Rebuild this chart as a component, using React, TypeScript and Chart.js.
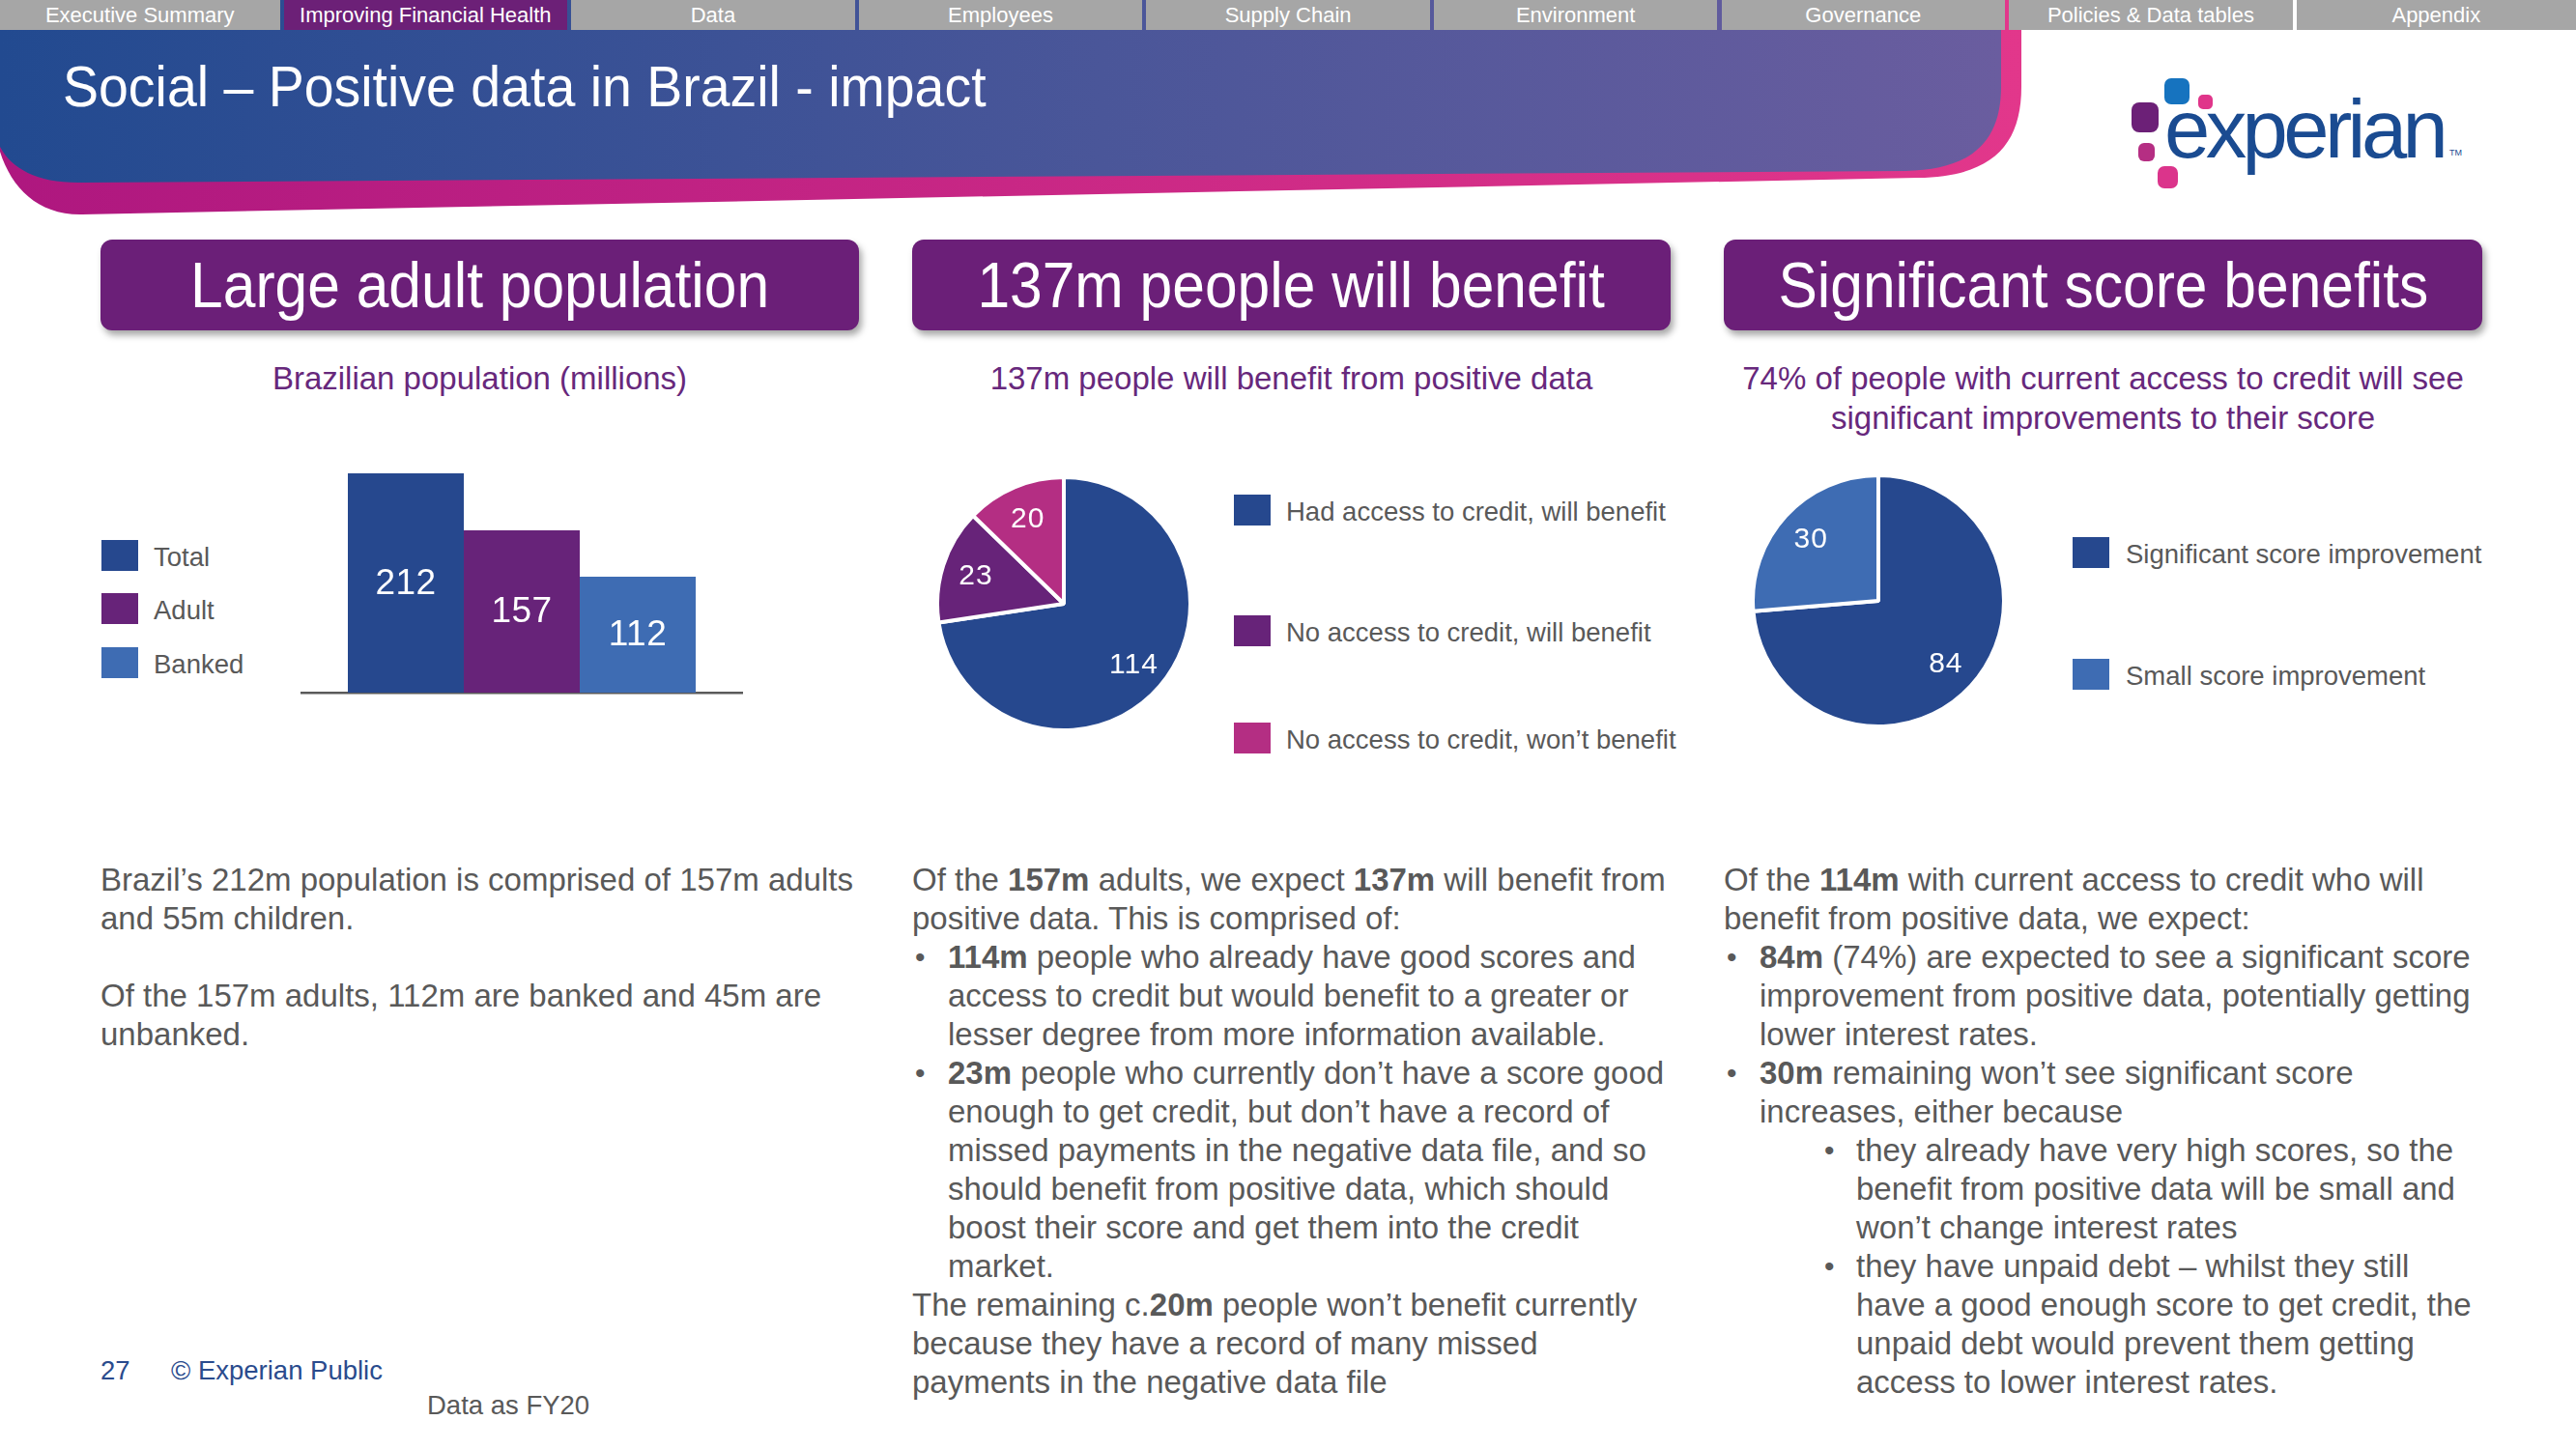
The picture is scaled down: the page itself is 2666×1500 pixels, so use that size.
import React, { useEffect, useRef } from "react";
import { Chart, registerables } from "chart.js";

Chart.register(...registerables);

const FONT = '"Liberation Sans", Arial, Helvetica, sans-serif';
Chart.defaults.font.family = FONT;

// ---------------- data ----------------
const navTabs = [
  "Executive Summary",
  "Improving Financial Health",
  "Data",
  "Employees",
  "Supply Chain",
  "Environment",
  "Governance",
  "Policies & Data tables",
  "Appendix",
];
const activeTabIndex = 1;

const slideTitle = "Social – Positive data in Brazil - impact";

const panelHeadings = ["Large adult population", "137m people will benefit", "Significant score benefits"];
const panelSubtitles = [
  ["Brazilian population (millions)"],
  ["137m people will benefit from positive data"],
  ["74% of people with current access to credit will see", "significant improvements to their score"],
];

const populationCategories = ["Total", "Adult", "Banked"];
const populationValues = [212, 157, 112];

const benefitCategories = [
  "Had access to credit, will benefit",
  "No access to credit, will benefit",
  "No access to credit, won’t benefit",
];
const benefitValues = [114, 23, 20];

const scoreCategories = ["Significant score improvement", "Small score improvement"];
const scoreValues = [84, 30];

type Line = { text: string; level: number; bullet?: boolean };

const panel1Lines: Line[] = [
  { text: "Brazil’s 212m population is comprised of 157m adults", level: 0 },
  { text: "and 55m children.", level: 0 },
  { text: "", level: 0 },
  { text: "Of the 157m adults, 112m are banked and 45m are", level: 0 },
  { text: "unbanked.", level: 0 },
];

const panel2Lines: Line[] = [
  { text: "Of the **157m** adults, we expect **137m** will benefit from", level: 0 },
  { text: "positive data. This is comprised of:", level: 0 },
  { text: "**114m** people who already have good scores and", level: 1, bullet: true },
  { text: "access to credit but would benefit to a greater or", level: 1 },
  { text: "lesser degree from more information available.", level: 1 },
  { text: "**23m** people who currently don’t have a score good", level: 1, bullet: true },
  { text: "enough to get credit, but don’t have a record of", level: 1 },
  { text: "missed payments in the negative data file, and so", level: 1 },
  { text: "should benefit from positive data, which should", level: 1 },
  { text: "boost their score and get them into the credit", level: 1 },
  { text: "market.", level: 1 },
  { text: "The remaining c.**20m** people won’t benefit currently", level: 0 },
  { text: "because they have a record of many missed", level: 0 },
  { text: "payments in the negative data file", level: 0 },
];

const panel3Lines: Line[] = [
  { text: "Of the **114m** with current access to credit who will", level: 0 },
  { text: "benefit from positive data, we expect:", level: 0 },
  { text: "**84m** (74%) are expected to see a significant score", level: 1, bullet: true },
  { text: "improvement from positive data, potentially getting", level: 1 },
  { text: "lower interest rates.", level: 1 },
  { text: "**30m** remaining won’t see significant score", level: 1, bullet: true },
  { text: "increases, either because", level: 1 },
  { text: "they already have very high scores, so the", level: 2, bullet: true },
  { text: "benefit from positive data will be small and", level: 2 },
  { text: "won’t change interest rates", level: 2 },
  { text: "they have unpaid debt – whilst they still", level: 2, bullet: true },
  { text: "have a good enough score to get credit, the", level: 2 },
  { text: "unpaid debt would prevent them getting", level: 2 },
  { text: "access to lower interest rates.", level: 2 },
];

// ---------------- styles ----------------
const DARK_BLUE = "#26488e";
const PURPLE = "#672379";
const LIGHT_BLUE = "#3e6cb3";
const MAGENTA = "#b42e83";
const HEADER_PURPLE = "#6b1f78";
const SUB_PURPLE = "#67287c";
const GRAY = "#595959";

const populationColors = [DARK_BLUE, PURPLE, LIGHT_BLUE];
const benefitColors = [DARK_BLUE, PURPLE, MAGENTA];
const scoreColors = [DARK_BLUE, LIGHT_BLUE];

const valueLabelPlugin = {
  id: "valueLabels",
  afterDatasetsDraw(chart: any, _args: any, opts: any) {
    const { ctx } = chart;
    ctx.save();
    ctx.fillStyle = "#ffffff";
    ctx.font = `${opts.size}px ${FONT}`;
    ctx.textAlign = "center";
    ctx.textBaseline = "middle";
    try {
      (ctx as any).letterSpacing = opts.spacing || "0px";
    } catch (e) {}
    chart.data.datasets.forEach((ds: any, di: number) => {
      const meta = chart.getDatasetMeta(di);
      meta.data.forEach((el: any, i: number) => {
        const v = ds.data[i];
        let x = 0;
        let y = 0;
        if (meta.type === "bar") {
          const p = el.getProps(["x", "y", "base"], true);
          x = p.x;
          y = (p.y + p.base) / 2;
        } else {
          const p = el.getProps(["x", "y", "startAngle", "endAngle", "outerRadius"], true);
          const mid = (p.startAngle + p.endAngle) / 2;
          x = p.x + Math.cos(mid) * p.outerRadius * opts.radius;
          y = p.y + Math.sin(mid) * p.outerRadius * opts.radius;
        }
        ctx.fillText(String(v), x, y + 1);
      });
    });
    ctx.restore();
  },
};

function buildBar(): any {
  return {
    type: "bar",
    data: {
      labels: [""],
      datasets: populationCategories.map((c, i) => ({
        label: c,
        data: [populationValues[i]],
        backgroundColor: populationColors[i],
        borderWidth: 0,
        categoryPercentage: 0.786,
        barPercentage: 1,
      })),
    },
    options: {
      responsive: false,
      animation: false,
      layout: { padding: { top: 0, bottom: 5, left: 0, right: 0 } },
      plugins: {
        legend: { display: false },
        tooltip: { enabled: false },
        valueLabels: { size: 37, radius: 0, spacing: "0.5px" },
      },
      scales: {
        x: {
          display: true,
          grid: { display: false, drawTicks: false },
          ticks: { display: false },
          border: { display: true, color: "#5a5a5a", width: 2.5 },
        },
        y: { display: false, min: 0, max: 240 },
      },
    },
    plugins: [valueLabelPlugin],
  };
}

function buildPie(values: number[], labels: string[], colors: string[]): any {
  return {
    type: "pie",
    data: {
      labels,
      datasets: [
        {
          data: values,
          backgroundColor: colors,
          borderColor: "#ffffff",
          borderWidth: 4,
        },
      ],
    },
    options: {
      responsive: false,
      animation: false,
      layout: { padding: 0 },
      plugins: {
        legend: { display: false },
        tooltip: { enabled: false },
        valueLabels: { size: 30, radius: 0.73, spacing: "1px" },
      },
    },
    plugins: [valueLabelPlugin],
  };
}

const buildBenefitPie = () => buildPie(benefitValues, benefitCategories, benefitColors);
const buildScorePie = () => buildPie(scoreValues, scoreCategories, scoreColors);

function ChartCanvas(props: { left: number; top: number; width: number; height: number; build: () => any }) {
  const ref = useRef<HTMLCanvasElement | null>(null);
  useEffect(() => {
    if (!ref.current) return;
    const chart = new Chart(ref.current, props.build());
    return () => chart.destroy();
  }, [props.build]);
  return (
    <canvas
      ref={ref}
      width={props.width}
      height={props.height}
      style={{ position: "absolute", left: props.left, top: props.top, width: props.width, height: props.height }}
    />
  );
}

function renderRich(text: string) {
  const parts = text.split("**");
  return parts.map((p, i) =>
    i % 2 === 1 ? (
      <span key={i} style={{ fontWeight: "bold" }}>
        {p}
      </span>
    ) : (
      <span key={i}>{p}</span>
    )
  );
}

function TextBlock({ x, lines }: { x: number; lines: Line[] }) {
  return (
    <>
      {lines.map((ln, i) => {
        const top = 891 + i * 40;
        const tx = x + (ln.level === 0 ? 0 : ln.level === 1 ? 37 : 137);
        const bx = x + (ln.level === 1 ? 3 : 104);
        return (
          <React.Fragment key={i}>
            {ln.bullet && (
              <div style={{ position: "absolute", left: bx, top, lineHeight: "40px", fontSize: 30, color: GRAY }}>•</div>
            )}
            <div
              style={{
                position: "absolute",
                left: tx,
                top,
                lineHeight: "40px",
                height: 40,
                fontSize: 33,
                whiteSpace: "nowrap",
                color: GRAY,
              }}
            >
              {renderRich(ln.text)}
            </div>
          </React.Fragment>
        );
      })}
    </>
  );
}

function Legend({
  x,
  tops,
  labels,
  colors,
  textX,
}: {
  x: number;
  tops: number[];
  labels: string[];
  colors: string[];
  textX: number;
}) {
  return (
    <>
      {labels.map((l, i) => (
        <React.Fragment key={i}>
          <div style={{ position: "absolute", left: x, top: tops[i], width: 38, height: 32, background: colors[i] }} />
          <div
            style={{
              position: "absolute",
              left: textX,
              top: tops[i] + 2,
              height: 32,
              lineHeight: "32px",
              fontSize: 27.5,
              color: GRAY,
              whiteSpace: "nowrap",
            }}
          >
            {l}
          </div>
        </React.Fragment>
      ))}
    </>
  );
}

const panelXs = [104, 944, 1784];
const PANEL_W = 785;

export default function App() {
  const gapStarts = [0, 1, 2, 3, 4, 5, 6, 7].map((k) => 289.5 + k * 297.6);
  return (
    <div
      style={{
        position: "absolute",
        left: 0,
        top: 0,
        width: 2666,
        height: 1500,
        background: "#ffffff",
        overflow: "hidden",
        fontFamily: FONT,
      }}
    >
      {/* banner */}
      <svg width={2666} height={240} style={{ position: "absolute", left: 0, top: 0 }}>
        <defs>
          <linearGradient id="gBlue" x1="0" x2="1" y1="0" y2="0">
            <stop offset="0" stopColor="#224a90" />
            <stop offset="0.55" stopColor="#4a5699" />
            <stop offset="1" stopColor="#6a5d9f" />
          </linearGradient>
          <linearGradient id="gPink" x1="0" x2="1" y1="0" y2="0">
            <stop offset="0" stopColor="#ae177f" />
            <stop offset="1" stopColor="#e2378b" />
          </linearGradient>
        </defs>
        <path
          d="M0,0 H2092 V90 C2092,150 2062,183 1985,184 L85,222 C40,223 12,195 0,157 Z"
          fill="url(#gPink)"
        />
        <path
          d="M0,0 H2071 V90 C2071,145 2042,176 1972,177 L85,189 C40,190 12,175 0,152 Z"
          fill="url(#gBlue)"
        />
      </svg>

      {/* nav tabs */}
      {navTabs.map((t, i) => {
        const left = i === 0 ? 0 : gapStarts[i - 1] + 4;
        const right = i === navTabs.length - 1 ? 2666 : gapStarts[i];
        return (
          <div
            key={t}
            style={{
              position: "absolute",
              left,
              top: 0,
              width: right - left,
              height: 31,
              background: i === activeTabIndex ? "#6c2077" : "#a6a6a6",
              color: "#ffffff",
              fontSize: 22,
              lineHeight: "31px",
              textAlign: "center",
              whiteSpace: "nowrap",
            }}
          >
            {t}
          </div>
        );
      })}

      {/* slide title */}
      <div
        style={{
          position: "absolute",
          left: 65,
          top: 61,
          fontSize: 59,
          lineHeight: "58px",
          color: "#ffffff",
          whiteSpace: "nowrap",
          transform: "scaleX(0.94)",
          transformOrigin: "0 0",
        }}
      >
        {slideTitle}
      </div>

      {/* logo */}
      <div style={{ position: "absolute", left: 2240, top: 81, width: 26, height: 27, borderRadius: 7, background: "#1673bf" }} />
      <div style={{ position: "absolute", left: 2275, top: 98, width: 15, height: 15, borderRadius: 5, background: "#e0358a" }} />
      <div style={{ position: "absolute", left: 2206, top: 106, width: 28, height: 31, borderRadius: 8, background: "#6c2077" }} />
      <div style={{ position: "absolute", left: 2213, top: 148, width: 17, height: 19, borderRadius: 6, background: "#b52e83" }} />
      <div style={{ position: "absolute", left: 2233, top: 172, width: 21, height: 23, borderRadius: 7, background: "#db348b" }} />
      <div
        style={{
          position: "absolute",
          left: 2240,
          top: 91,
          fontSize: 85,
          lineHeight: "85px",
          letterSpacing: "-4.6px",
          color: "#1a4b91",
          whiteSpace: "nowrap",
        }}
      >
        experian
      </div>
      <div style={{ position: "absolute", left: 2535, top: 153, fontSize: 9, lineHeight: "10px", color: "#1a4b91" }}>TM</div>

      {/* panel headings */}
      {panelHeadings.map((h, i) => (
        <div
          key={h}
          style={{
            position: "absolute",
            left: panelXs[i],
            top: 248,
            width: PANEL_W,
            height: 94,
            borderRadius: 12,
            background: HEADER_PURPLE,
            boxShadow: "3px 5px 7px rgba(0,0,0,0.35)",
            color: "#ffffff",
            fontSize: 66,
            lineHeight: "94px",
            textAlign: "center",
            whiteSpace: "nowrap",
          }}
        >
          <span style={{ display: "inline-block", transform: "scaleX(0.917)", transformOrigin: "50% 50%" }}>{h}</span>
        </div>
      ))}

      {/* subtitles */}
      {panelSubtitles.map((lines, i) =>
        lines.map((l, j) => (
          <div
            key={i + "-" + j}
            style={{
              position: "absolute",
              left: panelXs[i] - 20,
              width: PANEL_W + 40,
              top: 371 + j * 41,
              height: 41,
              lineHeight: "41px",
              fontSize: 33,
              color: SUB_PURPLE,
              textAlign: "center",
              whiteSpace: "nowrap",
            }}
          >
            {l}
          </div>
        ))
      )}

      {/* chart 1: bar */}
      <ChartCanvas left={311} top={460} width={458} height={262} build={buildBar} />
      <Legend x={105} tops={[559, 614, 670]} labels={populationCategories} colors={populationColors} textX={159} />

      {/* chart 2: pie */}
      <ChartCanvas left={968} top={492} width={266} height={266} build={buildBenefitPie} />
      <Legend x={1277} tops={[512, 637, 748]} labels={benefitCategories} colors={benefitColors} textX={1331} />

      {/* chart 3: pie */}
      <ChartCanvas left={1812} top={490} width={264} height={264} build={buildScorePie} />
      <Legend x={2145} tops={[556, 682]} labels={scoreCategories} colors={scoreColors} textX={2200} />

      {/* body text */}
      <TextBlock x={panelXs[0]} lines={panel1Lines} />
      <TextBlock x={panelXs[1]} lines={panel2Lines} />
      <TextBlock x={panelXs[2]} lines={panel3Lines} />

      {/* footer */}
      <div style={{ position: "absolute", left: 104, top: 1403, fontSize: 27.5, lineHeight: "32px", color: "#2a4b8d" }}>27</div>
      <div
        style={{ position: "absolute", left: 177, top: 1403, fontSize: 27.5, lineHeight: "32px", color: "#2a4b8d", whiteSpace: "nowrap" }}
      >
        © Experian Public
      </div>
      <div
        style={{ position: "absolute", left: 442, top: 1439, fontSize: 27.5, lineHeight: "32px", color: GRAY, whiteSpace: "nowrap" }}
      >
        Data as FY20
      </div>
    </div>
  );
}
